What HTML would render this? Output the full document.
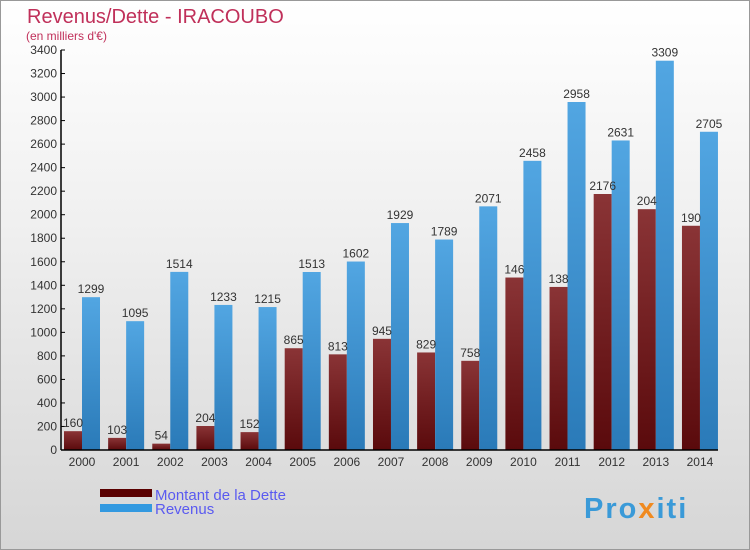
<!DOCTYPE html>
<html><head><meta charset="utf-8"><style>
body{margin:0;width:750px;height:550px;overflow:hidden;font-family:"Liberation Sans",sans-serif}
#wrap{position:relative;width:748px;height:548px;border:1px solid #999;background:linear-gradient(#fff,#f0f0f0 40%,#d6d6d6)}
</style></head><body>
<div id="wrap">
<svg id="chart" width="750" height="550" style="position:absolute;left:-1px;top:-1px">
<defs>
<linearGradient id="gd" x1="0" y1="0" x2="0" y2="1"><stop offset="0" stop-color="#8a3436"/><stop offset="1" stop-color="#5a0a0c"/></linearGradient>
<linearGradient id="gb" x1="0" y1="0" x2="0" y2="1"><stop offset="0" stop-color="#52a6e2"/><stop offset="1" stop-color="#2a7ab8"/></linearGradient>
</defs>
<text x="27" y="23" font-size="20" fill="#c0305a">Revenus/Dette - IRACOUBO</text>
<text x="26" y="40" font-size="12" fill="#c0305a">(en milliers d'€)</text>
<g id="plot"></g>
<rect x="100" y="489" width="52" height="8" fill="#5a0000"/>
<rect x="100" y="504" width="52" height="8" fill="#3399e0"/>
<text x="155" y="500" font-size="15" fill="#5a5af0">Montant de la Dette</text>
<text x="155" y="514" font-size="15" fill="#5a5af0">Revenus</text>
<text x="584" y="518" font-size="29" font-weight="bold" letter-spacing="2" fill="#3a9ad8">Pro<tspan fill="#f08a20">x</tspan>iti</text>
</svg>
</div>
<script>
const years=["2000","2001","2002","2003","2004","2005","2006","2007","2008","2009","2010","2011","2012","2013","2014"];
const dette=[160,103,54,204,152,865,813,945,829,758,1466,1386,2176,2047,1906];
const revenus=[1299,1095,1514,1233,1215,1513,1602,1929,1789,2071,2458,2958,2631,3309,2705];
const detteLabels=["160","103","54","204","152","865","813","945","829","758","146","138","2176","204","190"];
const yTicks=[0,200,400,600,800,1000,1200,1400,1600,1800,2000,2200,2400,2600,2800,3000,3200,3400];
const NS="http://www.w3.org/2000/svg";
const g=document.getElementById('plot');
const y0=450,yTop=50,yMax=3400;
const y=v=>y0-(v/yMax)*(y0-yTop);
const x=i=>82+i*44.14;
function mk(t,a){const e=document.createElementNS(NS,t);for(const k in a)e.setAttribute(k,a[k]);g.appendChild(e);return e;}
yTicks.forEach(v=>{
 const t=mk('text',{x:57,y:y(v)+4,'font-size':12,fill:'#333','text-anchor':'end'});t.textContent=v;
 
 
 const l=mk('line',{x1:61,x2:65,y1:y(v),y2:y(v),stroke:'#000'});
 
 
});
years.forEach((yr,i)=>{
 const cx=x(i);
 const d=mk('rect',{x:cx-18,y:y(dette[i]),width:18,height:y0-y(dette[i]),fill:'url(#gd)'});
 
 
 const b=mk('rect',{x:cx,y:y(revenus[i]),width:18,height:y0-y(revenus[i]),fill:'url(#gb)'});
 
 
 const tl=mk('text',{x:cx-9,y:y(dette[i])-4,'font-size':12,fill:'#333','text-anchor':'middle'});tl.textContent=detteLabels[i];
 
 
 const tr=mk('text',{x:cx+9,y:y(revenus[i])-4,'font-size':12,fill:'#333','text-anchor':'middle'});tr.textContent=revenus[i];
 
 
 const xl=mk('text',{x:cx,y:466,'font-size':12,fill:'#333','text-anchor':'middle'});xl.textContent=yr;
 
 
});
const ax=mk('line',{x1:61,x2:61,y1:yTop,y2:y0,stroke:'#000','stroke-width':1.5});


const bx=mk('line',{x1:61,x2:718,y1:y0,y2:y0,stroke:'#000','stroke-width':1.5});


</script>
</body></html>
